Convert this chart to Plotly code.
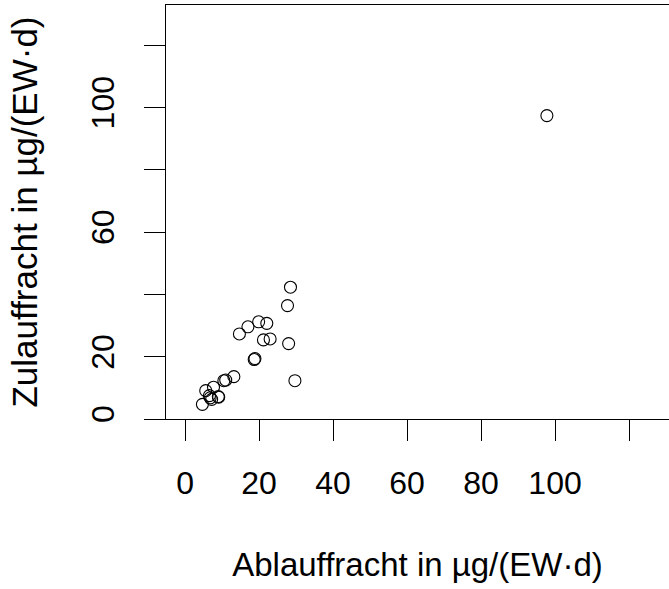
import plotly.graph_objects as go

# Effluent (x) and influent (y) loads per population equivalent
ablauf = [97.8, 28.5, 27.7, 19.9, 22.1, 17.0, 14.7, 21.2, 23.0, 28.0, 18.7, 18.9,
          29.7, 13.2, 11.0, 10.5, 7.7, 5.6, 9.0, 6.8, 4.7, 6.6, 7.2, 9.1]
zulauf = [97.4, 42.3, 36.4, 31.2, 30.7, 29.6, 27.3, 25.4, 25.7, 24.2, 19.1, 19.4,
          12.3, 13.6, 12.5, 12.3, 10.2, 9.1, 7.2, 6.8, 4.7, 7.5, 6.3, 7.0]

x_ticks = [0, 20, 40, 60, 80, 100, 120]
x_labels = ["0", "20", "40", "60", "80", "100", ""]
y_ticks = [0, 20, 40, 60, 80, 100, 120]
y_labels = ["0", "20", "", "60", "", "100", ""]

FONT = "Liberation Sans, Arial, sans-serif"

fig = go.Figure(
    go.Scatter(
        x=ablauf, y=zulauf, mode="markers",
        marker=dict(symbol="circle-open", size=12, color="black",
                    line=dict(width=1.1, color="black")),
        hoverinfo="skip",
    )
)

fig.update_layout(
    width=669, height=589,
    margin=dict(l=166, r=0, t=5, b=170),
    paper_bgcolor="white", plot_bgcolor="white",
    showlegend=False,
    font=dict(family=FONT, color="black", size=32),
)

fig.update_xaxes(
    range=[-5.14, 130.8], showgrid=False, zeroline=False,
    showline=True, mirror=True, linecolor="black", linewidth=1,
    ticks="outside", ticklen=21, tickwidth=1, tickcolor="black",
    tickvals=x_ticks, ticktext=x_labels, tickfont=dict(size=32),
    ticklabelstandoff=15,
    title=dict(text="Ablauffracht in µg/(EW·d)", font=dict(size=33), standoff=52),
)
fig.update_yaxes(
    range=[0, 132.9], showgrid=False, zeroline=False,
    showline=True, mirror=False, linecolor="black", linewidth=1,
    ticks="outside", ticklen=21, tickwidth=1, tickcolor="black",
    tickvals=y_ticks, ticktext=y_labels, tickfont=dict(size=32), tickangle=-90,
    ticklabelstandoff=17,
    title=dict(text="Zulauffracht in µg/(EW·d)", font=dict(size=35), standoff=36),
)

fig.write_html("out.html")
